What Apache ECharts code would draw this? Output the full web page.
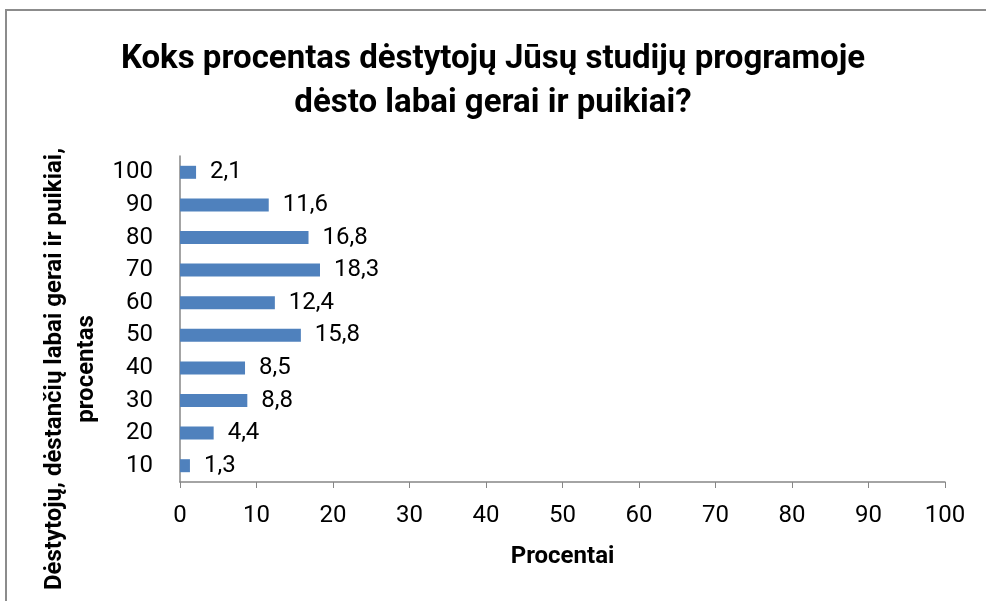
<!DOCTYPE html>
<html>
<head>
<meta charset="utf-8">
<script src="https://cdn.jsdelivr.net/npm/echarts@6/dist/echarts.min.js"></script>
<style>
  html, body { margin: 0; padding: 0; background: #fff; }
  #chart { width: 986px; height: 601px; }
</style>
</head>
<body>
<div id="chart"></div>
<script>
// duomenys
const categories = ['10', '20', '30', '40', '50', '60', '70', '80', '90', '100']
const values = [1.3, 4.4, 8.8, 8.5, 15.8, 12.4, 18.3, 16.8, 11.6, 2.1]
const xTicks = { min: 0, max: 100, interval: 10 }

const titleText = 'Koks procentas dėstytojų Jūsų studijų programoje\ndėsto labai gerai ir puikiai?'
const yName = 'Dėstytojų, dėstančių labai gerai ir puikiai,\nprocentas'
const xName = 'Procentai'

const font = 'Roboto, "Open Sans", sans-serif'
const axisGray = '#868686'

const chart = echarts.init(document.getElementById('chart'))

chart.setOption({
  animation: false,
  textStyle: { fontFamily: font },
  title: {
    text: titleText,
    left: 'center',
    top: 33,
    textStyle: {
      fontFamily: font,
      fontSize: 33,
      fontWeight: 'bold',
      color: '#000',
      lineHeight: 44
    }
  },
  graphic: [
    {
      type: 'rect',
      shape: { x: 6, y: 10, width: 1000, height: 620 },
      style: { fill: 'none', stroke: '#8c8c8c', lineWidth: 2 },
      silent: true
    },
    {
      type: 'text',
      x: 71,
      y: 369,
      rotation: Math.PI / 2,
      style: {
        text: yName,
        fontFamily: font,
        fontSize: 24,
        fontWeight: 'bold',
        fill: '#000',
        align: 'center',
        verticalAlign: 'middle',
        lineHeight: 32
      }
    }
  ],
  grid: {
    left: 180,
    right: 41,
    top: 156,
    bottom: 119
  },
  xAxis: {
    type: 'value',
    min: xTicks.min,
    max: xTicks.max,
    interval: xTicks.interval,
    name: xName,
    nameLocation: 'middle',
    nameGap: 63,
    nameTextStyle: { fontFamily: font, fontSize: 24, fontWeight: 'bold', color: '#000' },
    splitLine: { show: false },
    axisLine: { show: true, lineStyle: { color: axisGray, width: 1.5 } },
    axisTick: { show: true, length: 6, lineStyle: { color: axisGray } },
    axisLabel: { fontFamily: font, fontSize: 24, color: '#000', margin: 22 }
  },
  yAxis: {
    type: 'category',
    data: categories,
    axisLine: { show: true, lineStyle: { color: axisGray, width: 1.5 } },
    axisTick: { show: false },
    axisLabel: { fontFamily: font, fontSize: 24, color: '#000', margin: 27 }
  },
  series: [
    {
      type: 'bar',
      data: values,
      barWidth: 13,
      itemStyle: { color: '#4F81BD' },
      label: {
        show: true,
        position: 'right',
        distance: 14,
        fontFamily: font,
        fontSize: 24,
        color: '#000',
        formatter: p => String(p.value).replace('.', ',')
      }
    }
  ]
})
</script>
</body>
</html>
